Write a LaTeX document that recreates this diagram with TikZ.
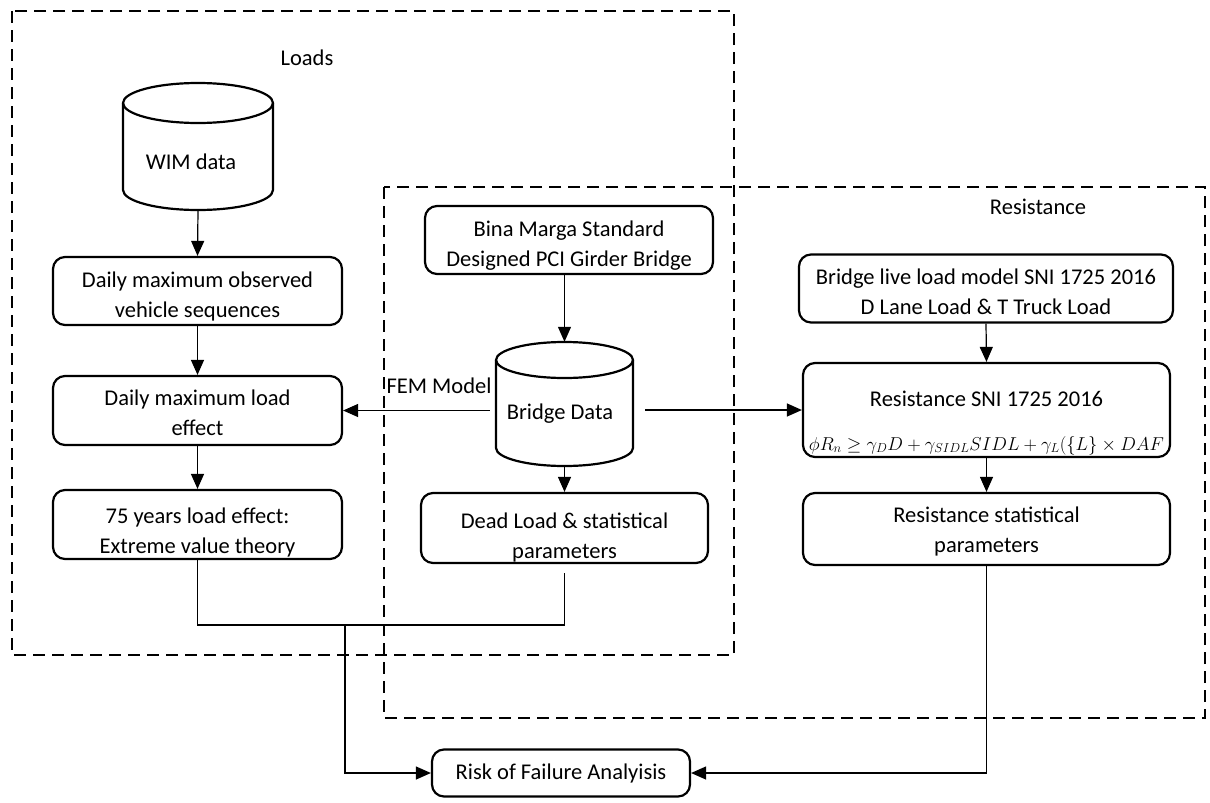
\documentclass[tikz,border=0pt]{standalone}
\usepackage{fontspec}
\setmainfont{Carlito}
\usetikzlibrary{arrows.meta}
\newcommand{\lowtxt}[2]{\raisebox{-#1}[\height][\depth]{\begin{tabular}{@{}c@{}}#2\end{tabular}}}
\begin{document}
\begin{tikzpicture}[x=1pt,y=-1pt,
  box/.style={draw, line width=2.2pt, rounded corners=12pt, align=center, inner sep=0pt},
  cyl/.style={line width=2.2pt},
  conn/.style={line width=1.2pt},
  arr/.style={conn, -{Triangle[length=15pt,width=13pt]}},
  group/.style={line width=2.6pt, dash pattern=on 12pt off 7pt},
  font=\fontsize{22.5}{30}\selectfont]
\useasboundingbox (0,0) rectangle (1210,803);
% group frames
\draw[group] (12,11) rectangle (734,655);
\draw[group] (384,187) rectangle (1205,718);
\node (loadslbl) at (307,58) {Loads};
\node (reslbl) at (1038,207) {Resistance};
% WIM cylinder
\node[minimum width=150pt, minimum height=127pt, inner sep=0pt] (wim) at (198,146.5) {};
\draw[cyl] (198,103) ellipse [x radius=75pt, y radius=20pt];
\draw[cyl] (123,103) -- (123,190) arc[start angle=180, end angle=360, x radius=75pt, y radius=20pt] -- (273,103);
\node (wimtxt) at (191,162) {WIM data};
% Bridge data cylinder
\node[minimum width=137pt, minimum height=124pt, inner sep=0pt] (bd) at (564.5,404) {};
\draw[cyl] (564.5,360) ellipse [x radius=68.5pt, y radius=18pt];
\draw[cyl] (496,360) -- (496,448) arc[start angle=180, end angle=360, x radius=68.5pt, y radius=18pt] -- (633,360);
\node (bdtxt) at (560,414) {Bridge Data};
% boxes
\node[box, minimum width=289pt, minimum height=68pt] (obs) at (197.5,291) {\lowtxt{5pt}{Daily maximum observed\\vehicle sequences}};
\node[box, minimum width=289pt, minimum height=69pt] (dle) at (197.5,410.5) {\lowtxt{4pt}{Daily maximum load\\effect}};
\node[box, minimum width=289pt, minimum height=69pt] (ext) at (197.5,524.5) {\lowtxt{8pt}{75 years load effect:\\Extreme value theory}};
\node[box, minimum width=288pt, minimum height=68pt] (bina) at (569,240) {\lowtxt{5pt}{Bina Marga Standard\\Designed PCI Girder Bridge}};
\node[box, minimum width=287pt, minimum height=70pt] (dead) at (564.5,528) {\lowtxt{9pt}{Dead Load \& statistical\\parameters}};
\node[box, minimum width=374pt, minimum height=68pt] (live) at (986,288.5) {\lowtxt{5pt}{Bridge live load model SNI 1725 2016\\D Lane Load \& T Truck Load}};
\node[box, minimum width=367pt, minimum height=94pt] (rsni) at (986.5,410) {\lowtxt{12pt}{Resistance SNI 1725 2016\\[14pt]\scalebox{0.9}{$\phi R_n \geq \gamma_D D + \gamma_{SIDL} SIDL + \gamma_L(\{L\} \times DAF$}}};
\node[box, minimum width=367pt, minimum height=72pt] (rstat) at (986.5,529) {\lowtxt{2pt}{Resistance statistical\\parameters}};
\node[box, minimum width=258pt, minimum height=47pt] (risk) at (561,773) {Risk of Failure Analyisis};
\node (femlbl) at (439,386) {FEM Model};
% connectors
\draw[arr] (wim.south) -- (obs.north);
\draw[arr] (obs) -- (dle);
\draw[arr] (dle) -- (ext);
\draw[arr] (bina.south -| bd.north) -- (bd.north);
\draw[arr] (bd.south) -- (dead.north);
\draw[arr] ([xshift=-6pt]bd.west |- dle.east) -- (dle.east);
\draw[arr] ([xshift=12pt]bd.east |- rsni.west) -- (rsni.west);
\draw[arr] (live.south) -- (rsni.north);
\draw[arr] (rsni.south) -- (rstat.north);
\coordinate (j) at (345,625);
\draw[conn] (ext.south) |- (dead.south |- j);
\draw[conn] ([yshift=-9pt]dead.south) -- (dead.south |- j);
\draw[arr] (j) |- (risk.west);
\draw[arr] (rstat.south) |- (risk.east);
\end{tikzpicture}
\end{document}
